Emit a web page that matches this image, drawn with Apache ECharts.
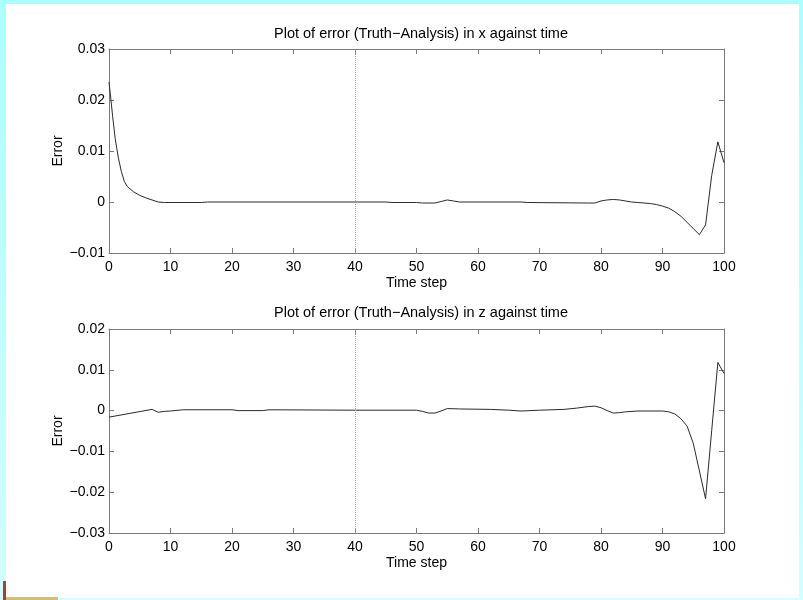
<!DOCTYPE html>
<html>
<head>
<meta charset="utf-8">
<script src="https://cdn.jsdelivr.net/npm/echarts@6/dist/echarts.min.js"></script>
<style>
  html, body { margin: 0; padding: 0; }
  #chart { width: 803px; height: 600px; }
</style>
</head>
<body>
<div id="chart"></div>
<script>
  // error in x, (time step, value)
  const stepsX = [0, 0.3, 0.6, 1, 1.5, 2, 2.5, 3, 4, 5, 6, 7, 8, 9, 15, 16, 45, 46, 50, 51, 53, 54, 55, 56, 57, 67, 68, 78, 79, 80, 81, 82, 83, 84, 85, 86, 87, 88, 89, 90, 91, 92, 93, 94, 95, 96, 97, 98, 99, 100];
  const errorX = [0.0235, 0.0202, 0.0167, 0.0125, 0.0088, 0.0060, 0.0040, 0.0030, 0.0020, 0.0013, 0.0008, 0.0004, 0.0000, -0.0001, -0.0001, 0.0000, 0.0000, -0.0001, -0.0001, -0.0002, -0.0002, 0.0001, 0.0004, 0.0002, 0.0000, 0.0000, -0.0001, -0.0002, -0.0002, 0.0002, 0.0004, 0.0005, 0.0004, 0.0002, 0.0000, -0.0001, -0.0002, -0.0003, -0.0005, -0.0008, -0.0012, -0.0019, -0.0028, -0.0040, -0.0052, -0.0064, -0.0045, 0.0052, 0.0118, 0.0077];

  // error in z
  const stepsZ = [0, 7, 8, 9, 10, 12, 20, 21, 25, 26, 40, 50, 51, 52, 53, 54, 55, 57, 62, 65, 67, 70, 74, 76, 78, 79, 80, 81, 82, 83, 84, 86, 90, 91, 92, 93, 94, 95, 96, 97, 98, 99, 100];
  const errorZ = [-0.0016, 0.0003, -0.0004, -0.0002, -0.0001, 0.0002, 0.0002, 0.0000, 0.0000, 0.0002, 0.0001, 0.0001, -0.0002, -0.0006, -0.0006, -0.0001, 0.0005, 0.0004, 0.0003, 0.0001, -0.0001, 0.0001, 0.0003, 0.0006, 0.0010, 0.0011, 0.0007, 0.0000, -0.0006, -0.0005, -0.0003, -0.0001, -0.0001, -0.0003, -0.0008, -0.0020, -0.0038, -0.0080, -0.0148, -0.0216, -0.0049, 0.0118, 0.0091];

  const titles = ['Plot of error (Truth\u2212Analysis) in x against time', 'Plot of error (Truth\u2212Analysis) in z against time'];
  const markStep = 40;

  const font = 'Liberation Sans, Arial, Helvetica, sans-serif';
  const axisGray = '#7a7a7a';

  const pairs = (xs, ys) => xs.map((x, i) => [x, ys[i]]);
  const minus = v => String(+v.toFixed(2)).replace('-', '\u2212');

  const grids = [
    { left: 109, top: 49, width: 615, height: 204 },
    { left: 109, top: 329, width: 615, height: 204 }
  ];

  const xAxis = [];
  const yAxis = [];
  const ranges = [[-0.01, 0.03], [-0.03, 0.02]];
  grids.forEach((g, i) => {
    xAxis.push({
      gridIndex: i, type: 'value', min: 0, max: 100, interval: 10,
      name: 'Time step', nameLocation: 'middle', nameGap: 23, nameMoveOverlap: false,
      nameTextStyle: { color: '#000', fontSize: 14, fontFamily: font },
      axisLine: { onZero: false, lineStyle: { color: axisGray } },
      axisTick: { inside: true, length: 5, lineStyle: { color: axisGray } },
      axisLabel: { color: '#000', fontSize: 14, fontFamily: font, margin: 7 },
      splitLine: { show: false }
    });
    xAxis.push({
      gridIndex: i, type: 'value', min: 0, max: 100, interval: 10, position: 'top',
      axisLine: { onZero: false, lineStyle: { color: axisGray } },
      axisTick: { inside: true, length: 5, lineStyle: { color: axisGray } },
      axisLabel: { show: false }, splitLine: { show: false }
    });
    yAxis.push({
      gridIndex: i, type: 'value', min: ranges[i][0], max: ranges[i][1], interval: 0.01,
      name: 'Error', nameLocation: 'middle', nameGap: 44, nameMoveOverlap: false,
      nameTextStyle: { color: '#000', fontSize: 14, fontFamily: font },
      axisLine: { show: true, onZero: false, lineStyle: { color: axisGray } },
      axisTick: { show: true, inside: true, length: 5, lineStyle: { color: axisGray } },
      axisLabel: { color: '#000', fontSize: 14, fontFamily: font, margin: 4, formatter: minus },
      splitLine: { show: false }
    });
    yAxis.push({
      gridIndex: i, type: 'value', min: ranges[i][0], max: ranges[i][1], interval: 0.01, position: 'right',
      axisLine: { show: true, onZero: false, lineStyle: { color: axisGray } },
      axisTick: { show: true, inside: true, length: 5, lineStyle: { color: axisGray } },
      axisLabel: { show: false }, splitLine: { show: false }
    });
  });

  const lineSeries = (i, data) => ({
    type: 'line', xAxisIndex: i * 2, yAxisIndex: i * 2, data,
    symbol: 'none', animation: false,
    lineStyle: { color: '#2a2a2a', width: 1 },
    markLine: {
      silent: true, symbol: 'none', label: { show: false },
      lineStyle: { color: '#a0a0a0', type: 'dotted', width: 1 },
      data: [{ xAxis: markStep }]
    }
  });

  const chart = echarts.init(document.getElementById('chart'));
  chart.setOption({
    animation: false,
    backgroundColor: {
      type: 'linear', x: 0, y: 0, x2: 0, y2: 1,
      colorStops: [{ offset: 0, color: '#aaffff' }, { offset: 1, color: '#d2ffff' }]
    },
    graphic: [
      { type: 'rect', z: -10, shape: { x: 6, y: 4, width: 793, height: 594 }, style: { fill: '#fff' } },
      { type: 'rect', shape: { x: 3, y: 581, width: 3, height: 19 }, style: { fill: '#a8402c' } },
      { type: 'rect', shape: { x: 6, y: 597, width: 52, height: 3 }, style: { fill: '#d8c060' } },
      { type: 'text', x: 421, y: 34, style: { text: titles[0], fill: '#000', font: '14.5px ' + font, textAlign: 'center', textVerticalAlign: 'middle' } },
      { type: 'text', x: 421, y: 313, style: { text: titles[1], fill: '#000', font: '14.5px ' + font, textAlign: 'center', textVerticalAlign: 'middle' } }
    ],
    grid: grids,
    xAxis,
    yAxis,
    series: [
      lineSeries(0, pairs(stepsX, errorX)),
      lineSeries(1, pairs(stepsZ, errorZ))
    ]
  });
</script>
</body>
</html>
